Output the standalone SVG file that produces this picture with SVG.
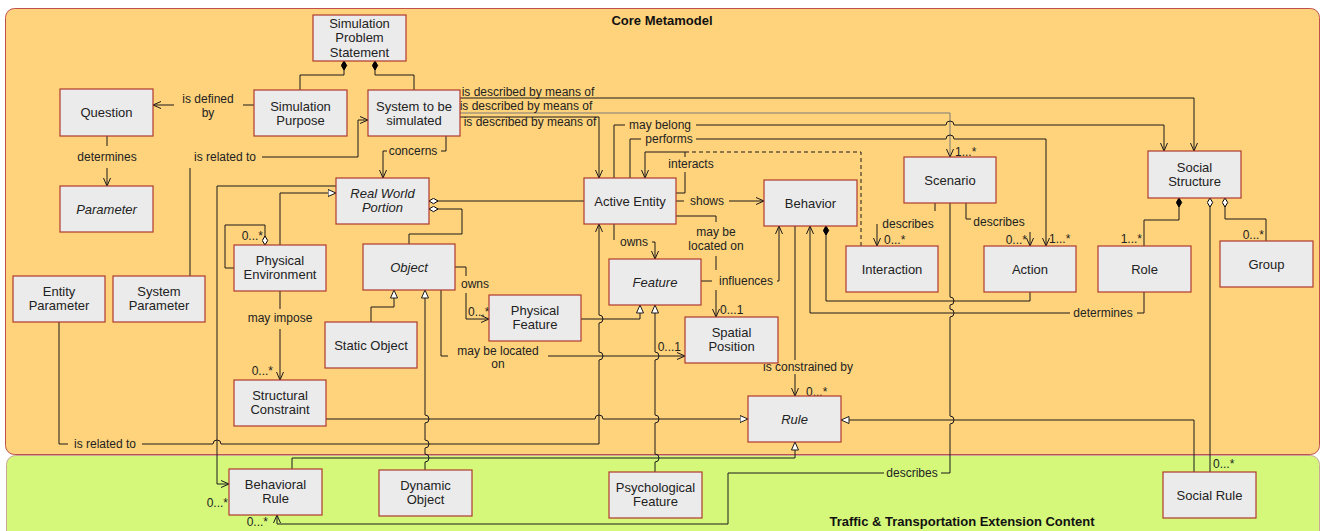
<svg xmlns="http://www.w3.org/2000/svg" width="1322" height="531" viewBox="0 0 1322 531">
<style>
.node rect{fill:#EBEBEB;stroke:#B03A2E;stroke-width:1.2}
.node text{font-family:"Liberation Sans",Arial,sans-serif;font-size:13px;fill:#222;text-anchor:middle}
.it{font-style:italic}
.lbl{font-family:"Liberation Sans",Arial,sans-serif;font-size:12px;fill:#222;text-anchor:middle}
.ls{text-anchor:start}
.le{text-anchor:end}
.title{font-family:"Liberation Sans",Arial,sans-serif;font-size:13px;font-weight:bold;fill:#111;text-anchor:middle}
#edges path{fill:none;stroke:#1a1a1a;stroke-width:1}
</style>
<defs>
<marker id="arr" viewBox="0 0 9 8" refX="8.5" refY="4" markerWidth="9" markerHeight="8" markerUnits="userSpaceOnUse" orient="auto"><path d="M0.5,0.5 L8.5,4 L0.5,7.5" fill="none" stroke="#1a1a1a" stroke-width="1"/></marker>
<marker id="tri" viewBox="0 0 9 8" refX="8.5" refY="4" markerWidth="9" markerHeight="8" markerUnits="userSpaceOnUse" orient="auto"><path d="M0.5,0.5 L8.5,4 L0.5,7.5 Z" fill="#FFFFFF" stroke="#1a1a1a" stroke-width="1"/></marker>
<marker id="dF" viewBox="0 0 10 7" refX="0.5" refY="3.5" markerWidth="10" markerHeight="7" markerUnits="userSpaceOnUse" orient="auto"><path d="M0.5,3.5 L5,0.8 L9.5,3.5 L5,6.2 Z" fill="#000" stroke="#000" stroke-width="1"/></marker>
<marker id="dH" viewBox="0 0 10 7" refX="0.5" refY="3.5" markerWidth="10" markerHeight="7" markerUnits="userSpaceOnUse" orient="auto"><path d="M0.5,3.5 L5,0.8 L9.5,3.5 L5,6.2 Z" fill="#FFF" stroke="#000" stroke-width="1"/></marker>
</defs>
<rect width="1322" height="531" fill="#FFFFFF"/>
<g id="containers">
<rect x="5.5" y="8.5" width="1314" height="446" rx="9" fill="#FFD37B" stroke="#C0504D" stroke-width="1"/>
<rect x="6.5" y="455.5" width="1313" height="90" rx="9" fill="#D5F87B" stroke="#C8A89A" stroke-width="1"/>
<text class="title" x="662" y="24.5">Core Metamodel</text>
<text class="title" x="962" y="525.5">Traffic &amp; Transportation Extension Content</text>
</g>
<g id="edges">
<path d="M344,61 V75 H300 V90" marker-start="url(#dF)"/>
<path d="M375,61 V75 H414 V90" marker-start="url(#dF)"/>
<path d="M254,105 H243"/><path d="M174,105 H153" marker-end="url(#arr)"/>
<text class="lbl" x="208" y="103.3">is defined</text><text class="lbl" x="208" y="117.3">by</text>
<path d="M107,136 V146"/><path d="M107,168 V186" marker-end="url(#arr)"/>
<text class="lbl" x="107" y="161.3">determines</text>
<path d="M190,276 V168"/><path d="M262,157 H358 V120 H368" marker-end="url(#arr)"/>
<text class="lbl" x="225" y="161.3">is related to</text>
<path d="M446,136 V151 H441"/><path d="M387,151 H383 V178" marker-end="url(#arr)"/>
<text class="lbl" x="413" y="155.3">concerns</text>
<path d="M460,98 H1194 V151" marker-end="url(#arr)"/>
<text class="lbl" x="528" y="96.3">is described by means of</text>
<path d="M460,113 H950 V157" style="stroke:#7a7a7a" marker-end="url(#arr)"/>
<text class="lbl" x="526" y="110.3">is described by means of</text>
<text class="lbl ls" x="955" y="156.3">1...*</text>
<path d="M460,117 H599 V178" marker-end="url(#arr)"/>
<text class="lbl" x="530" y="126.3">is described by means of</text>
<path d="M614,178 V125 H625"/><path d="M696,125 H946 a4,4 0 0 1 8,0 H1164 V151" marker-end="url(#arr)"/>
<text class="lbl" x="660" y="129.3">may belong</text>
<path d="M630,178 V139 H641"/><path d="M696,139 H946 a4,4 0 0 1 8,0 H1046 V246" marker-end="url(#arr)"/>
<text class="lbl" x="669" y="143.3">performs</text>
<text class="lbl ls" x="1049" y="243.3">1...*</text>
<path d="M676,193 H685 V172"/><path d="M685,157 V152 H645 V178" marker-end="url(#arr)"/>
<path d="M685,152 H861 V246" stroke-dasharray="4,3"/>
<text class="lbl" x="691" y="168.3">interacts</text>
<path d="M676,201 H684"/><path d="M729,201 H764" marker-end="url(#arr)"/>
<text class="lbl" x="707" y="205.3">shows</text>
<path d="M676,216 H716 V222"/><path d="M716,256 V270"/><path d="M716,290 V317" marker-end="url(#arr)"/>
<text class="lbl" x="716" y="236.3">may be</text><text class="lbl" x="716" y="250.3">located on</text>
<text class="lbl ls" x="720" y="314.3">0...1</text>
<path d="M701,281 H712"/><path d="M777,281 H779 V226" marker-end="url(#arr)"/>
<text class="lbl" x="746" y="285.3">influences</text>
<path d="M429,201 H584" marker-start="url(#dH)"/>
<path d="M429,209 H462 V234 H409 V244" marker-start="url(#dH)"/>
<path d="M280,245 V193 H336" marker-end="url(#tri)"/>
<path d="M336,186 H217 V484 H229" marker-end="url(#arr)"/>
<text class="lbl le" x="228" y="507.3">0...*</text>
<path d="M614,224 V240"/><path d="M652,242 H655 V259" marker-end="url(#arr)"/>
<text class="lbl" x="634" y="246.3">owns</text>
<path d="M455,267 H466 V276"/><path d="M466,293 V319 H489" marker-end="url(#arr)"/>
<text class="lbl" x="475" y="288.3">owns</text>
<text class="lbl ls" x="468" y="316.3">0...*</text>
<path d="M581,319 H640 V305" marker-end="url(#tri)"/>
<path d="M655,472 V462 a4,4 0 0 0 0,-8 V423 a4,4 0 0 0 0,-8 V360 a4,4 0 0 0 0,-8 V305" marker-end="url(#tri)"/>
<path d="M425,470 V462 a4,4 0 0 0 0,-8 V448 a4,4 0 0 0 0,-8 V423 a4,4 0 0 0 0,-8 V290" marker-end="url(#tri)"/>
<path d="M371,322 V307 H394 V290" marker-end="url(#tri)"/>
<path d="M441,290 V356 H448"/><path d="M548,356 H685" marker-end="url(#arr)"/>
<text class="lbl" x="498" y="355.3">may be located</text><text class="lbl" x="498" y="368.3">on</text>
<text class="lbl le" x="681" y="351.3">0...1</text>
<path d="M59,322 V444 H68"/><path d="M142,444 H213 a4,4 0 0 1 8,0 H599 V360 a4,4 0 0 0 0,-8 V323 a4,4 0 0 0 0,-8 V224" marker-end="url(#arr)"/>
<text class="lbl" x="105" y="448.3">is related to</text>
<path d="M326,419 H595 a4,4 0 0 1 8,0 H748" marker-end="url(#tri)"/>
<path d="M280,291 V309"/><path d="M280,329 V380" marker-end="url(#arr)"/>
<text class="lbl" x="280" y="322.3">may impose</text>
<text class="lbl le" x="273" y="375.3">0...*</text>
<path d="M265,245 V225 H225 V268 H234" marker-start="url(#dH)"/>
<text class="lbl le" x="263" y="240.3">0...*</text>
<path d="M292,469 V458 H795 V442" marker-end="url(#tri)"/>
<path d="M795,226 V360"/><path d="M795,374 V396" marker-end="url(#arr)"/>
<text class="lbl" x="808" y="371.3">is constrained by</text>
<text class="lbl ls" x="806" y="396.3">0...*</text>
<path d="M1144,292 V313 H1137"/><path d="M1070,313 H810 V226" marker-end="url(#arr)"/>
<text class="lbl" x="1103" y="317.3">determines</text>
<path d="M826,226 V301 H1030 V292" marker-start="url(#dF)"/>
<path d="M935,203 V211"/><path d="M877,224 V246" marker-end="url(#arr)"/>
<text class="lbl" x="908" y="228.3">describes</text>
<text class="lbl ls" x="884" y="244.3">0...*</text>
<path d="M966,203 V219 H971"/><path d="M1030,232 V246" marker-end="url(#arr)"/>
<text class="lbl" x="999" y="226.3">describes</text>
<text class="lbl le" x="1027" y="244.3">0...*</text>
<path d="M950,203 V297 a4,4 0 0 1 0,8 V309 a4,4 0 0 1 0,8 V416 a4,4 0 0 1 0,8 V473 H941"/><path d="M884,473 H728 V524 H277 V515" marker-end="url(#arr)"/>
<text class="lbl" x="912" y="477.3">describes</text>
<text class="lbl le" x="268" y="526.3">0...*</text>
<path d="M1194,472 V420 H841" marker-end="url(#tri)"/>
<path d="M1210,198 V472" marker-start="url(#dH)"/>
<text class="lbl ls" x="1213" y="468.3">0...*</text>
<path d="M1179,198 V220 H1144 V246" marker-start="url(#dF)"/>
<text class="lbl le" x="1142" y="243.3">1...*</text>
<path d="M1225,198 V219 H1266 V241" marker-start="url(#dH)"/>
<text class="lbl le" x="1264" y="239.3">0...*</text>
</g>
<g id="n-sps" class="node"><rect x="313" y="15" width="93" height="46"/><text x="359.5" y="27.5">Simulation</text><text x="359.5" y="42">Problem</text><text x="359.5" y="56.5">Statement</text></g>
<g id="n-question" class="node"><rect x="60" y="89" width="93" height="47"/><text x="106.5" y="117">Question</text></g>
<g id="n-purpose" class="node"><rect x="254" y="90" width="93" height="46"/><text x="300.5" y="110.5">Simulation</text><text x="300.5" y="124.5">Purpose</text></g>
<g id="n-system" class="node"><rect x="368" y="90" width="92" height="46"/><text x="414" y="110.5">System to be</text><text x="414" y="124.5">simulated</text></g>
<g id="n-parameter" class="node"><rect x="60" y="186" width="93" height="46"/><text class="it" x="106.5" y="213.5">Parameter</text></g>
<g id="n-entityparam" class="node"><rect x="13" y="276" width="92" height="46"/><text x="59" y="296">Entity</text><text x="59" y="310">Parameter</text></g>
<g id="n-systemparam" class="node"><rect x="113" y="276" width="92" height="46"/><text x="159" y="296">System</text><text x="159" y="310">Parameter</text></g>
<g id="n-physenv" class="node"><rect x="234" y="245" width="92" height="46"/><text x="280" y="265">Physical</text><text x="280" y="279">Environment</text></g>
<g id="n-rwp" class="node"><rect x="336" y="178" width="93" height="46"/><text class="it" x="382.5" y="198">Real World</text><text class="it" x="382.5" y="212">Portion</text></g>
<g id="n-object" class="node"><rect x="363" y="244" width="92" height="46"/><text class="it" x="409" y="271.5">Object</text></g>
<g id="n-staticobj" class="node"><rect x="325" y="322" width="92" height="46"/><text x="371" y="349.5">Static Object</text></g>
<g id="n-physfeature" class="node"><rect x="489" y="295" width="92" height="46"/><text x="535" y="315">Physical</text><text x="535" y="329">Feature</text></g>
<g id="n-activeentity" class="node"><rect x="584" y="178" width="92" height="46"/><text x="630" y="205.5">Active Entity</text></g>
<g id="n-feature" class="node"><rect x="609" y="259" width="92" height="46"/><text class="it" x="655" y="286.5">Feature</text></g>
<g id="n-behavior" class="node"><rect x="764" y="180" width="93" height="46"/><text x="810.5" y="207.5">Behavior</text></g>
<g id="n-spatial" class="node"><rect x="685" y="317" width="93" height="46"/><text x="731.5" y="337">Spatial</text><text x="731.5" y="351">Position</text></g>
<g id="n-interaction" class="node"><rect x="846" y="246" width="92" height="46"/><text x="892" y="273.5">Interaction</text></g>
<g id="n-scenario" class="node"><rect x="904" y="157" width="92" height="46"/><text x="950" y="184.5">Scenario</text></g>
<g id="n-action" class="node"><rect x="984" y="246" width="92" height="46"/><text x="1030" y="273.5">Action</text></g>
<g id="n-role" class="node"><rect x="1098" y="246" width="93" height="46"/><text x="1144.5" y="273.5">Role</text></g>
<g id="n-group" class="node"><rect x="1220" y="241" width="93" height="46"/><text x="1266.5" y="268.5">Group</text></g>
<g id="n-socialstructure" class="node"><rect x="1148" y="151" width="93" height="47"/><text x="1194.5" y="171.5">Social</text><text x="1194.5" y="186">Structure</text></g>
<g id="n-structconstraint" class="node"><rect x="234" y="380" width="92" height="46"/><text x="280" y="400">Structural</text><text x="280" y="414">Constraint</text></g>
<g id="n-rule" class="node"><rect x="748" y="396" width="93" height="46"/><text class="it" x="794.5" y="423.5">Rule</text></g>
<g id="n-behavioralrule" class="node"><rect x="229" y="469" width="93" height="46"/><text x="275.5" y="489">Behavioral</text><text x="275.5" y="503">Rule</text></g>
<g id="n-dynamicobj" class="node"><rect x="379" y="470" width="93" height="46"/><text x="425.5" y="490">Dynamic</text><text x="425.5" y="504">Object</text></g>
<g id="n-psychfeature" class="node"><rect x="609" y="472" width="93" height="46"/><text x="655.5" y="492">Psychological</text><text x="655.5" y="506">Feature</text></g>
<g id="n-socialrule" class="node"><rect x="1163" y="472" width="93" height="46"/><text x="1209.5" y="499.5">Social Rule</text></g>
</svg>
